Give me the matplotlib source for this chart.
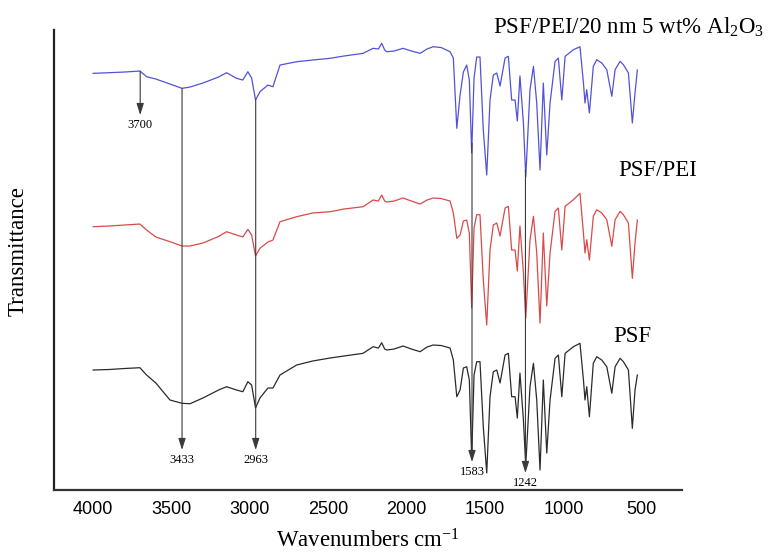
import numpy as np
import matplotlib.pyplot as plt

plt.rcParams['font.family'] = 'Liberation Serif'
plt.rcParams['mathtext.fontset'] = 'custom'
plt.rcParams['mathtext.rm'] = 'Liberation Serif'
plt.rcParams['mathtext.it'] = 'Liberation Serif:italic'

# wavenumbers (cm-1)
wn = [4000, 3900, 3800, 3702, 3659, 3600, 3510, 3433, 3382, 3300, 3200, 3149,
      3085, 3045, 3013, 2989, 2964, 2936, 2885, 2853, 2808, 2702, 2600, 2489,
      2400, 2278, 2214, 2180, 2159, 2140, 2127, 2080, 2023, 1970, 1914, 1870,
      1831, 1780, 1723, 1702, 1680, 1659, 1638, 1617, 1600, 1585, 1570, 1553,
      1532, 1511, 1489, 1468, 1447, 1425, 1404, 1372, 1351, 1330, 1308, 1294,
      1277, 1255, 1240, 1213, 1191, 1170, 1149, 1128, 1106, 1085, 1053, 1032,
      1010, 989, 936, 894, 872, 862, 851, 834, 809, 787, 755, 723,
      691, 670, 638, 617, 585, 560, 543, 528]

# PSF (black)
t_psf = [120, 120.5, 121.5, 122.3, 115, 107, 90, 86.7, 86.3, 92, 100, 103.3,
         100, 98.3, 108.3, 105, 82, 92, 102, 102, 115, 125, 129, 132,
         134, 136.7, 143.3, 142, 147.3, 141, 140, 141, 144, 141, 138.3, 143,
         145, 144.5, 142, 130, 93.3, 100, 122, 123.3, 110, 32, 115, 128.3,
         128.3, 63.3, 17, 93.3, 118.3, 120, 107, 135, 136.7, 93.3, 93.3, 72,
         117, 70, 25, 103.3, 126.7, 90, 20, 110, 37, 90, 131.7, 135,
         93.3, 136.7, 143.3, 146.7, 110, 90, 103.3, 73.3, 126.7, 133.3, 130, 123.3,
         96.7, 123.3, 131.7, 128.3, 120, 61.7, 100, 115]

# PSF/PEI (red)
t_pei = [263.3, 264, 265, 266, 260, 253, 248.3, 244, 244, 247, 253.5, 258.3,
         255, 253, 260.7, 255, 234, 241.7, 248, 250, 268.3, 273.3, 277, 278.3,
         281, 283.3, 290, 289, 295, 289, 288, 289, 292, 289, 286, 290,
         292, 291.5, 289, 277, 251.7, 255, 269, 270, 257, 182, 262, 275.3,
         275.3, 210, 165, 240, 265, 267, 254, 282, 283.7, 240, 240, 219,
         264, 217, 172, 250, 273.7, 237, 167, 257, 184, 237, 278.7, 282,
         240, 283.7, 290.3, 296.7, 257, 237, 250.3, 230, 273.7, 280.3, 277, 270.3,
         243.7, 270.3, 278.7, 275.3, 267, 211.7, 247, 270]

# PSF/PEI/20 nm 5 wt% Al2O3 (blue)
t_al = [416.7, 417.3, 418, 419, 413.3, 411, 406, 401.7, 403, 407, 413, 417.3,
        411.7, 410, 418.3, 412, 390, 398.3, 405, 403.3, 425, 428.3, 430, 431.7,
        434, 436.7, 441.7, 441, 446.7, 440, 438.3, 439, 441.7, 439, 436.7, 441,
        443.3, 442.5, 438.3, 432, 361.7, 395, 418, 425, 410, 337, 412, 433,
        433, 360, 315, 390, 415, 417, 404, 432, 433.7, 390, 390, 369,
        414, 367, 313, 400, 423.7, 387, 320, 407, 335, 387, 428.7, 432,
        390, 433.7, 440.3, 443.3, 407, 387, 400.3, 377, 423.7, 430.3, 427, 420.3,
        393.7, 420.3, 428.7, 425.3, 417, 367, 397, 420]

# marked bands
peaks = [3700, 3433, 2963, 1583, 1242]
peak_labels = ['3700', '3433', '2963', '1583', '1242']

fig = plt.figure(figsize=(7.69, 5.55), dpi=100)
ax = fig.add_axes([0.0702, 0.1171, 0.8167, 0.8288])

ax.plot(wn, t_psf, color='#2b2b2b', lw=0.9)
ax.plot(wn, t_pei, color='#d94a4a', lw=0.9)
ax.plot(wn, t_al, color='#5252d6', lw=0.9)

ax.set_xlim(4250, 243)
ax.set_ylim(0, 460)

# arrows from the top spectrum down to the labels
wn_r = wn[::-1]
al_r = t_al[::-1]
tips = [375, 40, 40, 28, 17]
for p, lab, tip in zip(peaks, peak_labels, tips):
    start = np.interp(p, wn_r, al_r)
    ax.annotate('', xy=(p, tip), xytext=(p, start),
                arrowprops=dict(arrowstyle='-|>,head_length=0.7,head_width=0.22',
                                color='#3a3a3a', lw=0.8, shrinkA=0, shrinkB=0))
    ax.text(p, tip - 4, lab, ha='center', va='top', fontsize=9)

ax.text(587, 456, 'PSF/PEI/20 nm 5 wt% Al$_2$O$_3$', ha='center', va='baseline', fontsize=16.5)
ax.text(396, 314, 'PSF/PEI', ha='center', va='baseline', fontsize=16.5)
ax.text(557, 148, 'PSF', ha='center', va='baseline', fontsize=16.5)

for s in ['top', 'right']:
    ax.spines[s].set_visible(False)
ax.spines['left'].set_linewidth(1.6)
ax.spines['bottom'].set_linewidth(1.6)
ax.spines['left'].set_color('#222222')
ax.spines['bottom'].set_color('#333333')

ax.set_yticks([])
ax.set_xticks([4000, 3500, 3000, 2500, 2000, 1500, 1000, 500])
ax.tick_params(axis='x', length=0, pad=8, labelsize=13)
for lbl in ax.get_xticklabels():
    lbl.set_fontfamily('Liberation Sans')

ax.set_xlabel('Wavenumbers cm$^{-1}$', fontsize=16.5)
ax.xaxis.set_label_coords(0.5, -0.085)
ax.set_ylabel('Transmittance', fontsize=16.5)
ax.yaxis.set_label_coords(-0.04, 0.52)

fig.savefig('out.png', dpi=100)
